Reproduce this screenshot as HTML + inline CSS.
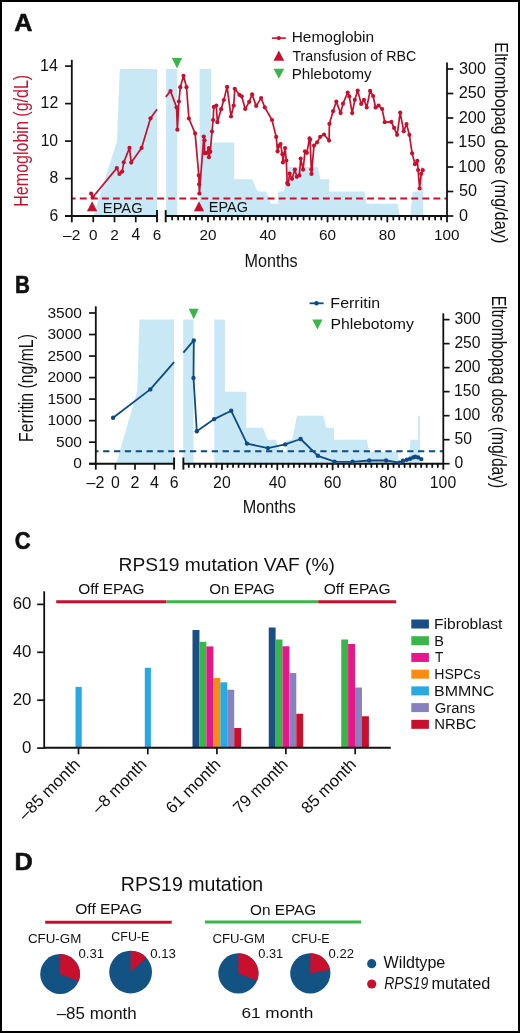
<!DOCTYPE html>
<html><head><meta charset="utf-8"><style>
html,body{margin:0;padding:0;background:#fff;}
svg{display:block;will-change:transform;}
text{font-family:"Liberation Sans",sans-serif;}
</style></head><body>
<svg width="520" height="1033" viewBox="0 0 520 1033">
<rect x="0" y="0" width="520" height="1033" fill="#fff"/>
<polygon points="93.2,216 116.9,141.8 119.8,69 157,69 157,216" fill="#c9e8f6"/>
<polygon points="166.13,216 166.13,69 177.19,69 177.19,216" fill="#c9e8f6"/>
<polygon points="199.61,216 199.61,69 211.12,69 211.12,142.5 234.28,142.5 234.28,179.25 252.22,179.25 257.45,191.5 265.97,191.5 271.05,203.75 277.77,203.75 277.77,191.5 283.75,191.5 288.98,167 317.68,167 320.55,179.25 329.03,179.25 329.03,191.5 364.6,191.5 366.7,203.75 397.63,203.75 399.72,216" fill="#c9e8f6"/>
<polygon points="410.34,216 412.58,191.5 420.95,191.5 420.95,167 423.04,167 423.04,216" fill="#c9e8f6"/>
<line x1="71.8" y1="198.5" x2="447" y2="198.5" stroke="#c8102e" stroke-width="2" stroke-dasharray="6.9 4.15" stroke-dashoffset="3.05"/>
<line x1="71.8" y1="59.8" x2="71.8" y2="222.3" stroke="#111" stroke-width="1.8"/>
<line x1="447" y1="62.5" x2="447" y2="222.3" stroke="#111" stroke-width="1.8"/>
<line x1="65" y1="216" x2="157" y2="216" stroke="#111" stroke-width="2"/>
<line x1="165.7" y1="216" x2="447" y2="216" stroke="#111" stroke-width="2"/>
<line x1="65" y1="216.1" x2="71.8" y2="216.1" stroke="#111" stroke-width="1.7"/>
<line x1="65" y1="178.6" x2="71.8" y2="178.6" stroke="#111" stroke-width="1.7"/>
<line x1="65" y1="141.1" x2="71.8" y2="141.1" stroke="#111" stroke-width="1.7"/>
<line x1="65" y1="103.6" x2="71.8" y2="103.6" stroke="#111" stroke-width="1.7"/>
<line x1="65" y1="66.1" x2="71.8" y2="66.1" stroke="#111" stroke-width="1.7"/>
<line x1="447" y1="216" x2="453.3" y2="216" stroke="#111" stroke-width="1.7"/>
<line x1="447" y1="191.5" x2="453.3" y2="191.5" stroke="#111" stroke-width="1.7"/>
<line x1="447" y1="167" x2="453.3" y2="167" stroke="#111" stroke-width="1.7"/>
<line x1="447" y1="142.5" x2="453.3" y2="142.5" stroke="#111" stroke-width="1.7"/>
<line x1="447" y1="118" x2="453.3" y2="118" stroke="#111" stroke-width="1.7"/>
<line x1="447" y1="93.5" x2="453.3" y2="93.5" stroke="#111" stroke-width="1.7"/>
<line x1="447" y1="69" x2="453.3" y2="69" stroke="#111" stroke-width="1.7"/>
<line x1="93.25" y1="216" x2="93.25" y2="222.3" stroke="#111" stroke-width="1.7"/>
<line x1="114.5" y1="216" x2="114.5" y2="222.3" stroke="#111" stroke-width="1.7"/>
<line x1="135.75" y1="216" x2="135.75" y2="222.3" stroke="#111" stroke-width="1.7"/>
<line x1="157" y1="210.1" x2="157" y2="222.35" stroke="#111" stroke-width="1.9"/>
<line x1="165.7" y1="210.1" x2="165.7" y2="222.35" stroke="#111" stroke-width="1.9"/>
<line x1="172.11" y1="216" x2="172.11" y2="219.5" stroke="#111" stroke-width="1.8" stroke-linecap="round"/>
<line x1="178.09" y1="216" x2="178.09" y2="219.5" stroke="#111" stroke-width="1.8" stroke-linecap="round"/>
<line x1="184.07" y1="216" x2="184.07" y2="219.5" stroke="#111" stroke-width="1.8" stroke-linecap="round"/>
<line x1="190.05" y1="216" x2="190.05" y2="219.5" stroke="#111" stroke-width="1.8" stroke-linecap="round"/>
<line x1="196.02" y1="216" x2="196.02" y2="219.5" stroke="#111" stroke-width="1.8" stroke-linecap="round"/>
<line x1="202" y1="216" x2="202" y2="219.5" stroke="#111" stroke-width="1.8" stroke-linecap="round"/>
<line x1="207.98" y1="216" x2="207.98" y2="221.5" stroke="#111" stroke-width="1.8" stroke-linecap="round"/>
<line x1="213.96" y1="216" x2="213.96" y2="219.5" stroke="#111" stroke-width="1.8" stroke-linecap="round"/>
<line x1="219.94" y1="216" x2="219.94" y2="219.5" stroke="#111" stroke-width="1.8" stroke-linecap="round"/>
<line x1="225.91" y1="216" x2="225.91" y2="219.5" stroke="#111" stroke-width="1.8" stroke-linecap="round"/>
<line x1="231.89" y1="216" x2="231.89" y2="219.5" stroke="#111" stroke-width="1.8" stroke-linecap="round"/>
<line x1="237.87" y1="216" x2="237.87" y2="219.5" stroke="#111" stroke-width="1.8" stroke-linecap="round"/>
<line x1="243.85" y1="216" x2="243.85" y2="219.5" stroke="#111" stroke-width="1.8" stroke-linecap="round"/>
<line x1="249.83" y1="216" x2="249.83" y2="219.5" stroke="#111" stroke-width="1.8" stroke-linecap="round"/>
<line x1="255.8" y1="216" x2="255.8" y2="219.5" stroke="#111" stroke-width="1.8" stroke-linecap="round"/>
<line x1="261.78" y1="216" x2="261.78" y2="219.5" stroke="#111" stroke-width="1.8" stroke-linecap="round"/>
<line x1="267.76" y1="216" x2="267.76" y2="221.5" stroke="#111" stroke-width="1.8" stroke-linecap="round"/>
<line x1="273.74" y1="216" x2="273.74" y2="219.5" stroke="#111" stroke-width="1.8" stroke-linecap="round"/>
<line x1="279.72" y1="216" x2="279.72" y2="219.5" stroke="#111" stroke-width="1.8" stroke-linecap="round"/>
<line x1="285.69" y1="216" x2="285.69" y2="219.5" stroke="#111" stroke-width="1.8" stroke-linecap="round"/>
<line x1="291.67" y1="216" x2="291.67" y2="219.5" stroke="#111" stroke-width="1.8" stroke-linecap="round"/>
<line x1="297.65" y1="216" x2="297.65" y2="219.5" stroke="#111" stroke-width="1.8" stroke-linecap="round"/>
<line x1="303.63" y1="216" x2="303.63" y2="219.5" stroke="#111" stroke-width="1.8" stroke-linecap="round"/>
<line x1="309.61" y1="216" x2="309.61" y2="219.5" stroke="#111" stroke-width="1.8" stroke-linecap="round"/>
<line x1="315.58" y1="216" x2="315.58" y2="219.5" stroke="#111" stroke-width="1.8" stroke-linecap="round"/>
<line x1="321.56" y1="216" x2="321.56" y2="219.5" stroke="#111" stroke-width="1.8" stroke-linecap="round"/>
<line x1="327.54" y1="216" x2="327.54" y2="221.5" stroke="#111" stroke-width="1.8" stroke-linecap="round"/>
<line x1="333.52" y1="216" x2="333.52" y2="219.5" stroke="#111" stroke-width="1.8" stroke-linecap="round"/>
<line x1="339.5" y1="216" x2="339.5" y2="219.5" stroke="#111" stroke-width="1.8" stroke-linecap="round"/>
<line x1="345.47" y1="216" x2="345.47" y2="219.5" stroke="#111" stroke-width="1.8" stroke-linecap="round"/>
<line x1="351.45" y1="216" x2="351.45" y2="219.5" stroke="#111" stroke-width="1.8" stroke-linecap="round"/>
<line x1="357.43" y1="216" x2="357.43" y2="219.5" stroke="#111" stroke-width="1.8" stroke-linecap="round"/>
<line x1="363.41" y1="216" x2="363.41" y2="219.5" stroke="#111" stroke-width="1.8" stroke-linecap="round"/>
<line x1="369.39" y1="216" x2="369.39" y2="219.5" stroke="#111" stroke-width="1.8" stroke-linecap="round"/>
<line x1="375.36" y1="216" x2="375.36" y2="219.5" stroke="#111" stroke-width="1.8" stroke-linecap="round"/>
<line x1="381.34" y1="216" x2="381.34" y2="219.5" stroke="#111" stroke-width="1.8" stroke-linecap="round"/>
<line x1="387.32" y1="216" x2="387.32" y2="221.5" stroke="#111" stroke-width="1.8" stroke-linecap="round"/>
<line x1="393.3" y1="216" x2="393.3" y2="219.5" stroke="#111" stroke-width="1.8" stroke-linecap="round"/>
<line x1="399.28" y1="216" x2="399.28" y2="219.5" stroke="#111" stroke-width="1.8" stroke-linecap="round"/>
<line x1="405.25" y1="216" x2="405.25" y2="219.5" stroke="#111" stroke-width="1.8" stroke-linecap="round"/>
<line x1="411.23" y1="216" x2="411.23" y2="219.5" stroke="#111" stroke-width="1.8" stroke-linecap="round"/>
<line x1="417.21" y1="216" x2="417.21" y2="219.5" stroke="#111" stroke-width="1.8" stroke-linecap="round"/>
<line x1="423.19" y1="216" x2="423.19" y2="219.5" stroke="#111" stroke-width="1.8" stroke-linecap="round"/>
<line x1="429.17" y1="216" x2="429.17" y2="219.5" stroke="#111" stroke-width="1.8" stroke-linecap="round"/>
<line x1="435.14" y1="216" x2="435.14" y2="219.5" stroke="#111" stroke-width="1.8" stroke-linecap="round"/>
<line x1="441.12" y1="216" x2="441.12" y2="219.5" stroke="#111" stroke-width="1.8" stroke-linecap="round"/>
<polyline points="92.75,197.2 116.8,168.1 119.4,174 122.2,171.6 123.8,162.3 129.5,147.9 131.2,162.6 141.6,147.9 150.5,118.3 157,109.3" fill="none" stroke="#c8102e" stroke-width="1.7" stroke-linejoin="round"/>
<polyline points="91.1,193.6 92.75,197.2" fill="none" stroke="#c8102e" stroke-width="1.7" stroke-linejoin="round"/>
<polyline points="165.8,96.9 170.5,91.1 176.6,107.4 177.4,129.7 178.9,101.5 180.3,87.2 183.5,75.8 186.5,87.2 188.9,118.5 195.1,133.4 198.8,175.4 199.1,184.3 199.4,193.5 203.8,136.5 204.5,140.3 204.6,153.1 206.5,153 208.9,148 208.9,157.2 210.3,151.7 212,131.5 213.1,120 213.8,106.9 216.3,105.5 217.4,122.2 221.1,109.2 223.8,100 227.1,86.9 231,116.5 233.7,105.6 234.8,88.8 239.4,94.8 241.7,96.3 245.2,109 249.2,101.8 252.1,94.4 256.2,105.9 261.1,98.1 264.8,107.3 272,120 276.2,136.9 277.6,151.3 278.6,146 280.5,144.1 282.4,154.2 282.9,162.4 285.1,148 286.3,160.5 287.2,183.1 288.2,184.5 289.6,173.5 292,178.8 294.9,169.6 296.8,176.8 299.3,175.4 300.7,158.6 303.1,169.6 305,151.3 306.9,152.8 309.5,138.4 310.1,139.8 311.3,169.6 311.5,173.9 314,145.6 317.1,142.3 320.2,136.8 324,134.5 329.1,140.6 329.4,123.8 333.1,111.2 336.3,101.6 340.6,113.1 343,103.7 347.7,92.5 349.3,96.4 352.2,113.1 354.8,99.8 357.7,90.6 361.2,103.9 364,99.8 366.7,107.5 370.1,90.9 373.1,96 375.6,107.5 378.6,105.5 382.1,109 384.8,122.2 391.3,121.9 394.1,127.9 397.1,134.8 400.2,112.7 403.7,131.2 406.5,124 409.4,134.8 412.1,153.3 415,164.2 417.3,160.8 418.1,170 419.6,188.5 421.2,173.8 422.7,170.2" fill="none" stroke="#c8102e" stroke-width="1.7" stroke-linejoin="round"/>
<circle cx="91.1" cy="193.6" r="2.1" fill="#c8102e"/><circle cx="92.75" cy="197.2" r="2.1" fill="#c8102e"/><circle cx="116.8" cy="168.1" r="2.1" fill="#c8102e"/><circle cx="119.4" cy="174" r="2.1" fill="#c8102e"/><circle cx="122.2" cy="171.6" r="2.1" fill="#c8102e"/><circle cx="123.8" cy="162.3" r="2.1" fill="#c8102e"/><circle cx="129.5" cy="147.9" r="2.1" fill="#c8102e"/><circle cx="131.2" cy="162.6" r="2.1" fill="#c8102e"/><circle cx="141.6" cy="147.9" r="2.1" fill="#c8102e"/><circle cx="150.5" cy="118.3" r="2.1" fill="#c8102e"/><circle cx="170.5" cy="91.1" r="2.1" fill="#c8102e"/><circle cx="176.6" cy="107.4" r="2.1" fill="#c8102e"/><circle cx="177.4" cy="129.7" r="2.1" fill="#c8102e"/><circle cx="178.9" cy="101.5" r="2.1" fill="#c8102e"/><circle cx="180.3" cy="87.2" r="2.1" fill="#c8102e"/><circle cx="183.5" cy="75.8" r="2.1" fill="#c8102e"/><circle cx="186.5" cy="87.2" r="2.1" fill="#c8102e"/><circle cx="188.9" cy="118.5" r="2.1" fill="#c8102e"/><circle cx="195.1" cy="133.4" r="2.1" fill="#c8102e"/><circle cx="198.8" cy="175.4" r="2.1" fill="#c8102e"/><circle cx="199.1" cy="184.3" r="2.1" fill="#c8102e"/><circle cx="199.4" cy="193.5" r="2.1" fill="#c8102e"/><circle cx="203.8" cy="136.5" r="2.1" fill="#c8102e"/><circle cx="204.5" cy="140.3" r="2.1" fill="#c8102e"/><circle cx="204.6" cy="153.1" r="2.1" fill="#c8102e"/><circle cx="206.5" cy="153" r="2.1" fill="#c8102e"/><circle cx="208.9" cy="148" r="2.1" fill="#c8102e"/><circle cx="208.9" cy="157.2" r="2.1" fill="#c8102e"/><circle cx="210.3" cy="151.7" r="2.1" fill="#c8102e"/><circle cx="212" cy="131.5" r="2.1" fill="#c8102e"/><circle cx="213.1" cy="120" r="2.1" fill="#c8102e"/><circle cx="213.8" cy="106.9" r="2.1" fill="#c8102e"/><circle cx="216.3" cy="105.5" r="2.1" fill="#c8102e"/><circle cx="217.4" cy="122.2" r="2.1" fill="#c8102e"/><circle cx="221.1" cy="109.2" r="2.1" fill="#c8102e"/><circle cx="223.8" cy="100" r="2.1" fill="#c8102e"/><circle cx="227.1" cy="86.9" r="2.1" fill="#c8102e"/><circle cx="231" cy="116.5" r="2.1" fill="#c8102e"/><circle cx="233.7" cy="105.6" r="2.1" fill="#c8102e"/><circle cx="234.8" cy="88.8" r="2.1" fill="#c8102e"/><circle cx="239.4" cy="94.8" r="2.1" fill="#c8102e"/><circle cx="241.7" cy="96.3" r="2.1" fill="#c8102e"/><circle cx="245.2" cy="109" r="2.1" fill="#c8102e"/><circle cx="249.2" cy="101.8" r="2.1" fill="#c8102e"/><circle cx="252.1" cy="94.4" r="2.1" fill="#c8102e"/><circle cx="256.2" cy="105.9" r="2.1" fill="#c8102e"/><circle cx="261.1" cy="98.1" r="2.1" fill="#c8102e"/><circle cx="264.8" cy="107.3" r="2.1" fill="#c8102e"/><circle cx="272" cy="120" r="2.1" fill="#c8102e"/><circle cx="276.2" cy="136.9" r="2.1" fill="#c8102e"/><circle cx="277.6" cy="151.3" r="2.1" fill="#c8102e"/><circle cx="278.6" cy="146" r="2.1" fill="#c8102e"/><circle cx="280.5" cy="144.1" r="2.1" fill="#c8102e"/><circle cx="282.4" cy="154.2" r="2.1" fill="#c8102e"/><circle cx="282.9" cy="162.4" r="2.1" fill="#c8102e"/><circle cx="285.1" cy="148" r="2.1" fill="#c8102e"/><circle cx="286.3" cy="160.5" r="2.1" fill="#c8102e"/><circle cx="287.2" cy="183.1" r="2.1" fill="#c8102e"/><circle cx="288.2" cy="184.5" r="2.1" fill="#c8102e"/><circle cx="289.6" cy="173.5" r="2.1" fill="#c8102e"/><circle cx="292" cy="178.8" r="2.1" fill="#c8102e"/><circle cx="294.9" cy="169.6" r="2.1" fill="#c8102e"/><circle cx="296.8" cy="176.8" r="2.1" fill="#c8102e"/><circle cx="299.3" cy="175.4" r="2.1" fill="#c8102e"/><circle cx="300.7" cy="158.6" r="2.1" fill="#c8102e"/><circle cx="303.1" cy="169.6" r="2.1" fill="#c8102e"/><circle cx="305" cy="151.3" r="2.1" fill="#c8102e"/><circle cx="306.9" cy="152.8" r="2.1" fill="#c8102e"/><circle cx="309.5" cy="138.4" r="2.1" fill="#c8102e"/><circle cx="310.1" cy="139.8" r="2.1" fill="#c8102e"/><circle cx="311.3" cy="169.6" r="2.1" fill="#c8102e"/><circle cx="311.5" cy="173.9" r="2.1" fill="#c8102e"/><circle cx="314" cy="145.6" r="2.1" fill="#c8102e"/><circle cx="317.1" cy="142.3" r="2.1" fill="#c8102e"/><circle cx="320.2" cy="136.8" r="2.1" fill="#c8102e"/><circle cx="324" cy="134.5" r="2.1" fill="#c8102e"/><circle cx="329.1" cy="140.6" r="2.1" fill="#c8102e"/><circle cx="329.4" cy="123.8" r="2.1" fill="#c8102e"/><circle cx="333.1" cy="111.2" r="2.1" fill="#c8102e"/><circle cx="336.3" cy="101.6" r="2.1" fill="#c8102e"/><circle cx="340.6" cy="113.1" r="2.1" fill="#c8102e"/><circle cx="343" cy="103.7" r="2.1" fill="#c8102e"/><circle cx="347.7" cy="92.5" r="2.1" fill="#c8102e"/><circle cx="349.3" cy="96.4" r="2.1" fill="#c8102e"/><circle cx="352.2" cy="113.1" r="2.1" fill="#c8102e"/><circle cx="354.8" cy="99.8" r="2.1" fill="#c8102e"/><circle cx="357.7" cy="90.6" r="2.1" fill="#c8102e"/><circle cx="361.2" cy="103.9" r="2.1" fill="#c8102e"/><circle cx="364" cy="99.8" r="2.1" fill="#c8102e"/><circle cx="366.7" cy="107.5" r="2.1" fill="#c8102e"/><circle cx="370.1" cy="90.9" r="2.1" fill="#c8102e"/><circle cx="373.1" cy="96" r="2.1" fill="#c8102e"/><circle cx="375.6" cy="107.5" r="2.1" fill="#c8102e"/><circle cx="378.6" cy="105.5" r="2.1" fill="#c8102e"/><circle cx="382.1" cy="109" r="2.1" fill="#c8102e"/><circle cx="384.8" cy="122.2" r="2.1" fill="#c8102e"/><circle cx="391.3" cy="121.9" r="2.1" fill="#c8102e"/><circle cx="394.1" cy="127.9" r="2.1" fill="#c8102e"/><circle cx="397.1" cy="134.8" r="2.1" fill="#c8102e"/><circle cx="400.2" cy="112.7" r="2.1" fill="#c8102e"/><circle cx="403.7" cy="131.2" r="2.1" fill="#c8102e"/><circle cx="406.5" cy="124" r="2.1" fill="#c8102e"/><circle cx="409.4" cy="134.8" r="2.1" fill="#c8102e"/><circle cx="412.1" cy="153.3" r="2.1" fill="#c8102e"/><circle cx="415" cy="164.2" r="2.1" fill="#c8102e"/><circle cx="417.3" cy="160.8" r="2.1" fill="#c8102e"/><circle cx="418.1" cy="170" r="2.1" fill="#c8102e"/><circle cx="419.6" cy="188.5" r="2.1" fill="#c8102e"/><circle cx="421.2" cy="173.8" r="2.1" fill="#c8102e"/><circle cx="422.7" cy="170.2" r="2.1" fill="#c8102e"/>
<polygon points="92.1,201.2 86.95,211.2 97.25,211.2" fill="#c8102e"/>
<polygon points="199,201.25 193.9,211.25 204.1,211.25" fill="#c8102e"/>
<polygon points="171.9,57.9 182.1,57.9 177,68.6" fill="#39b54a"/>
<line x1="271.9" y1="38.1" x2="285.8" y2="38.1" stroke="#c8102e" stroke-width="1.6"/>
<circle cx="278.8" cy="38.1" r="2.1" fill="#c8102e"/>
<polygon points="278.85,50.4 273.5,60.7 284.2,60.7" fill="#c8102e"/>
<polygon points="273.5,68.8 284.2,68.8 278.85,78.8" fill="#39b54a"/>
<text x="291.73" y="42.2" font-size="14.21" fill="#111" textLength="82.37" lengthAdjust="spacingAndGlyphs">Hemoglobin</text>
<text x="292.38" y="60.7" font-size="14.63" fill="#111" textLength="123.86" lengthAdjust="spacingAndGlyphs">Transfusion of RBC</text>
<text x="291.76" y="79.2" font-size="14.35" fill="#111" textLength="79.77" lengthAdjust="spacingAndGlyphs">Phlebotomy</text>
<text x="14.17" y="30.6" font-size="23.69" font-weight="bold" fill="#111" textLength="18.19" lengthAdjust="spacingAndGlyphs" stroke="#111" stroke-width="0.6" stroke-linejoin="round">A</text>
<text x="49.47" y="220.55" font-size="15.68" fill="#111" textLength="8.72" lengthAdjust="spacingAndGlyphs">6</text>
<text x="49.46" y="183.05" font-size="15.68" fill="#111" textLength="8.72" lengthAdjust="spacingAndGlyphs">8</text>
<text x="40.67" y="145.55" font-size="15.68" fill="#111" textLength="17.44" lengthAdjust="spacingAndGlyphs">10</text>
<text x="40.62" y="108.2" font-size="15.9" fill="#111" textLength="17.68" lengthAdjust="spacingAndGlyphs">12</text>
<text x="40.03" y="70.7" font-size="16.13" fill="#111" textLength="17.95" lengthAdjust="spacingAndGlyphs">14</text>
<text x="458.97" y="220.74" font-size="16.24" fill="#111" textLength="9.03" lengthAdjust="spacingAndGlyphs">0</text>
<text x="458.95" y="196.24" font-size="16.24" fill="#111" textLength="18.07" lengthAdjust="spacingAndGlyphs">50</text>
<text x="458.36" y="171.74" font-size="16.24" fill="#111" textLength="27.1" lengthAdjust="spacingAndGlyphs">100</text>
<text x="458.36" y="147.24" font-size="16.24" fill="#111" textLength="27.1" lengthAdjust="spacingAndGlyphs">150</text>
<text x="458.78" y="122.74" font-size="16.24" fill="#111" textLength="27.1" lengthAdjust="spacingAndGlyphs">200</text>
<text x="458.78" y="98.24" font-size="16.24" fill="#111" textLength="27.1" lengthAdjust="spacingAndGlyphs">250</text>
<text x="458.98" y="73.74" font-size="16.24" fill="#111" textLength="27.1" lengthAdjust="spacingAndGlyphs">300</text>
<text x="63.09" y="240.1" font-size="15.47" fill="#111" textLength="17.2" lengthAdjust="spacingAndGlyphs">–2</text>
<text x="89.01" y="239.95" font-size="15.25" fill="#111" textLength="8.48" lengthAdjust="spacingAndGlyphs">0</text>
<text x="110.2" y="240.1" font-size="15.47" fill="#111" textLength="8.6" lengthAdjust="spacingAndGlyphs">2</text>
<text x="131.43" y="240.1" font-size="15.7" fill="#111" textLength="8.73" lengthAdjust="spacingAndGlyphs">4</text>
<text x="152.71" y="239.95" font-size="15.25" fill="#111" textLength="8.48" lengthAdjust="spacingAndGlyphs">6</text>
<text x="199.41" y="239.95" font-size="15.25" fill="#111" textLength="16.97" lengthAdjust="spacingAndGlyphs">20</text>
<text x="259.4" y="239.95" font-size="15.25" fill="#111" textLength="16.97" lengthAdjust="spacingAndGlyphs">40</text>
<text x="318.97" y="239.95" font-size="15.25" fill="#111" textLength="16.97" lengthAdjust="spacingAndGlyphs">60</text>
<text x="378.8" y="239.95" font-size="15.25" fill="#111" textLength="16.97" lengthAdjust="spacingAndGlyphs">80</text>
<text x="434.09" y="239.95" font-size="15.25" fill="#111" textLength="25.45" lengthAdjust="spacingAndGlyphs">100</text>
<text x="244.47" y="266.75" font-size="18.7" fill="#111" textLength="53.01" lengthAdjust="spacingAndGlyphs">Months</text>
<text x="102.82" y="212.5" font-size="14.46" fill="#111" textLength="39.85" lengthAdjust="spacingAndGlyphs">EPAG</text>
<text x="208.85" y="212.3" font-size="14.04" fill="#111" textLength="39.11" lengthAdjust="spacingAndGlyphs">EPAG</text>
<g transform="translate(28.1,205.4) rotate(-90)"><text x="-1.32" y="0" font-size="19.73" fill="#c8102e" textLength="131.91" lengthAdjust="spacingAndGlyphs">Hemoglobin (g/dL)</text></g>
<g transform="translate(494.5,43.6) rotate(90)"><text x="-1.34" y="0" font-size="19.18" fill="#111" textLength="201.05" lengthAdjust="spacingAndGlyphs">Eltrombopag dose (mg/day)</text></g>
<polygon points="116.1,463.7 137.3,390.8 139.4,319.61 174.1,319.61 174.1,463.7" fill="#c9e8f6"/>
<polygon points="183.25,463.7 183.25,319.61 193.49,319.61 193.49,463.7" fill="#c9e8f6"/>
<polygon points="214.23,463.7 214.23,319.61 224.88,319.61 224.88,391.65 246.33,391.65 246.33,427.68 262.92,427.68 267.77,439.69 275.65,439.69 280.35,451.69 286.58,451.69 286.58,439.69 292.11,439.69 296.95,415.67 323.51,415.67 326.17,427.68 334.02,427.68 334.02,439.69 366.94,439.69 368.88,451.69 397.51,451.69 399.45,463.7" fill="#c9e8f6"/>
<polygon points="409.13,463.7 410.38,439.69 418.12,439.69 418.12,415.67 420.06,415.67 420.06,463.7" fill="#c9e8f6"/>
<line x1="95.8" y1="451.25" x2="443.3" y2="451.25" stroke="#0e4b85" stroke-width="1.9" stroke-dasharray="6.3 4.56" stroke-dashoffset="3.56"/>
<line x1="95.8" y1="306.3" x2="95.8" y2="469.7" stroke="#111" stroke-width="1.8"/>
<line x1="443.3" y1="313.3" x2="443.3" y2="469.7" stroke="#111" stroke-width="1.8"/>
<line x1="89" y1="463.7" x2="174.1" y2="463.7" stroke="#111" stroke-width="2"/>
<line x1="183.35" y1="463.7" x2="443.3" y2="463.7" stroke="#111" stroke-width="2"/>
<line x1="89" y1="463.7" x2="95.8" y2="463.7" stroke="#111" stroke-width="1.7"/>
<line x1="89" y1="442.17" x2="95.8" y2="442.17" stroke="#111" stroke-width="1.7"/>
<line x1="89" y1="420.64" x2="95.8" y2="420.64" stroke="#111" stroke-width="1.7"/>
<line x1="89" y1="399.11" x2="95.8" y2="399.11" stroke="#111" stroke-width="1.7"/>
<line x1="89" y1="377.58" x2="95.8" y2="377.58" stroke="#111" stroke-width="1.7"/>
<line x1="89" y1="356.05" x2="95.8" y2="356.05" stroke="#111" stroke-width="1.7"/>
<line x1="89" y1="334.52" x2="95.8" y2="334.52" stroke="#111" stroke-width="1.7"/>
<line x1="89" y1="312.99" x2="95.8" y2="312.99" stroke="#111" stroke-width="1.7"/>
<line x1="443.3" y1="463.7" x2="449.6" y2="463.7" stroke="#111" stroke-width="1.7"/>
<line x1="443.3" y1="439.69" x2="449.6" y2="439.69" stroke="#111" stroke-width="1.7"/>
<line x1="443.3" y1="415.67" x2="449.6" y2="415.67" stroke="#111" stroke-width="1.7"/>
<line x1="443.3" y1="391.65" x2="449.6" y2="391.65" stroke="#111" stroke-width="1.7"/>
<line x1="443.3" y1="367.64" x2="449.6" y2="367.64" stroke="#111" stroke-width="1.7"/>
<line x1="443.3" y1="343.62" x2="449.6" y2="343.62" stroke="#111" stroke-width="1.7"/>
<line x1="443.3" y1="319.61" x2="449.6" y2="319.61" stroke="#111" stroke-width="1.7"/>
<line x1="115.4" y1="463.7" x2="115.4" y2="469.7" stroke="#111" stroke-width="1.7"/>
<line x1="135" y1="463.7" x2="135" y2="469.7" stroke="#111" stroke-width="1.7"/>
<line x1="154.6" y1="463.7" x2="154.6" y2="469.7" stroke="#111" stroke-width="1.7"/>
<line x1="174.1" y1="457.5" x2="174.1" y2="469.6" stroke="#111" stroke-width="1.9"/>
<line x1="183.35" y1="457.5" x2="183.35" y2="469.6" stroke="#111" stroke-width="1.9"/>
<line x1="188.78" y1="463.7" x2="188.78" y2="467.1" stroke="#111" stroke-width="1.8" stroke-linecap="round"/>
<line x1="194.31" y1="463.7" x2="194.31" y2="467.1" stroke="#111" stroke-width="1.8" stroke-linecap="round"/>
<line x1="199.85" y1="463.7" x2="199.85" y2="467.1" stroke="#111" stroke-width="1.8" stroke-linecap="round"/>
<line x1="205.38" y1="463.7" x2="205.38" y2="467.1" stroke="#111" stroke-width="1.8" stroke-linecap="round"/>
<line x1="210.91" y1="463.7" x2="210.91" y2="467.1" stroke="#111" stroke-width="1.8" stroke-linecap="round"/>
<line x1="216.45" y1="463.7" x2="216.45" y2="467.1" stroke="#111" stroke-width="1.8" stroke-linecap="round"/>
<line x1="221.98" y1="463.7" x2="221.98" y2="469.3" stroke="#111" stroke-width="1.8" stroke-linecap="round"/>
<line x1="227.51" y1="463.7" x2="227.51" y2="467.1" stroke="#111" stroke-width="1.8" stroke-linecap="round"/>
<line x1="233.05" y1="463.7" x2="233.05" y2="467.1" stroke="#111" stroke-width="1.8" stroke-linecap="round"/>
<line x1="238.58" y1="463.7" x2="238.58" y2="467.1" stroke="#111" stroke-width="1.8" stroke-linecap="round"/>
<line x1="244.11" y1="463.7" x2="244.11" y2="467.1" stroke="#111" stroke-width="1.8" stroke-linecap="round"/>
<line x1="249.65" y1="463.7" x2="249.65" y2="467.1" stroke="#111" stroke-width="1.8" stroke-linecap="round"/>
<line x1="255.18" y1="463.7" x2="255.18" y2="467.1" stroke="#111" stroke-width="1.8" stroke-linecap="round"/>
<line x1="260.71" y1="463.7" x2="260.71" y2="467.1" stroke="#111" stroke-width="1.8" stroke-linecap="round"/>
<line x1="266.24" y1="463.7" x2="266.24" y2="467.1" stroke="#111" stroke-width="1.8" stroke-linecap="round"/>
<line x1="271.78" y1="463.7" x2="271.78" y2="467.1" stroke="#111" stroke-width="1.8" stroke-linecap="round"/>
<line x1="277.31" y1="463.7" x2="277.31" y2="469.3" stroke="#111" stroke-width="1.8" stroke-linecap="round"/>
<line x1="282.84" y1="463.7" x2="282.84" y2="467.1" stroke="#111" stroke-width="1.8" stroke-linecap="round"/>
<line x1="288.38" y1="463.7" x2="288.38" y2="467.1" stroke="#111" stroke-width="1.8" stroke-linecap="round"/>
<line x1="293.91" y1="463.7" x2="293.91" y2="467.1" stroke="#111" stroke-width="1.8" stroke-linecap="round"/>
<line x1="299.44" y1="463.7" x2="299.44" y2="467.1" stroke="#111" stroke-width="1.8" stroke-linecap="round"/>
<line x1="304.98" y1="463.7" x2="304.98" y2="467.1" stroke="#111" stroke-width="1.8" stroke-linecap="round"/>
<line x1="310.51" y1="463.7" x2="310.51" y2="467.1" stroke="#111" stroke-width="1.8" stroke-linecap="round"/>
<line x1="316.04" y1="463.7" x2="316.04" y2="467.1" stroke="#111" stroke-width="1.8" stroke-linecap="round"/>
<line x1="321.57" y1="463.7" x2="321.57" y2="467.1" stroke="#111" stroke-width="1.8" stroke-linecap="round"/>
<line x1="327.11" y1="463.7" x2="327.11" y2="467.1" stroke="#111" stroke-width="1.8" stroke-linecap="round"/>
<line x1="332.64" y1="463.7" x2="332.64" y2="469.3" stroke="#111" stroke-width="1.8" stroke-linecap="round"/>
<line x1="338.17" y1="463.7" x2="338.17" y2="467.1" stroke="#111" stroke-width="1.8" stroke-linecap="round"/>
<line x1="343.71" y1="463.7" x2="343.71" y2="467.1" stroke="#111" stroke-width="1.8" stroke-linecap="round"/>
<line x1="349.24" y1="463.7" x2="349.24" y2="467.1" stroke="#111" stroke-width="1.8" stroke-linecap="round"/>
<line x1="354.77" y1="463.7" x2="354.77" y2="467.1" stroke="#111" stroke-width="1.8" stroke-linecap="round"/>
<line x1="360.31" y1="463.7" x2="360.31" y2="467.1" stroke="#111" stroke-width="1.8" stroke-linecap="round"/>
<line x1="365.84" y1="463.7" x2="365.84" y2="467.1" stroke="#111" stroke-width="1.8" stroke-linecap="round"/>
<line x1="371.37" y1="463.7" x2="371.37" y2="467.1" stroke="#111" stroke-width="1.8" stroke-linecap="round"/>
<line x1="376.9" y1="463.7" x2="376.9" y2="467.1" stroke="#111" stroke-width="1.8" stroke-linecap="round"/>
<line x1="382.44" y1="463.7" x2="382.44" y2="467.1" stroke="#111" stroke-width="1.8" stroke-linecap="round"/>
<line x1="387.97" y1="463.7" x2="387.97" y2="469.3" stroke="#111" stroke-width="1.8" stroke-linecap="round"/>
<line x1="393.5" y1="463.7" x2="393.5" y2="467.1" stroke="#111" stroke-width="1.8" stroke-linecap="round"/>
<line x1="399.04" y1="463.7" x2="399.04" y2="467.1" stroke="#111" stroke-width="1.8" stroke-linecap="round"/>
<line x1="404.57" y1="463.7" x2="404.57" y2="467.1" stroke="#111" stroke-width="1.8" stroke-linecap="round"/>
<line x1="410.1" y1="463.7" x2="410.1" y2="467.1" stroke="#111" stroke-width="1.8" stroke-linecap="round"/>
<line x1="415.63" y1="463.7" x2="415.63" y2="467.1" stroke="#111" stroke-width="1.8" stroke-linecap="round"/>
<line x1="421.17" y1="463.7" x2="421.17" y2="467.1" stroke="#111" stroke-width="1.8" stroke-linecap="round"/>
<line x1="426.7" y1="463.7" x2="426.7" y2="467.1" stroke="#111" stroke-width="1.8" stroke-linecap="round"/>
<line x1="432.23" y1="463.7" x2="432.23" y2="467.1" stroke="#111" stroke-width="1.8" stroke-linecap="round"/>
<line x1="437.77" y1="463.7" x2="437.77" y2="467.1" stroke="#111" stroke-width="1.8" stroke-linecap="round"/>
<polyline points="113.1,417.7 150.3,389.4 174.1,362.1" fill="none" stroke="#0e4b85" stroke-width="1.8" stroke-linejoin="round"/>
<polyline points="183.4,352.6 193.8,340.4 193.5,377.9 196.8,431.3 214.2,419.1 231.2,410.8 247,443.6 267.9,448.1 285.2,444.4 300.6,439 317.9,455.8 334.6,461.7 352.6,461.8 369.2,460.5 386.1,460.5 399.7,462.6 403,460.8 406.8,459.8 410.1,458.8 413.2,457.4 415.2,456.7 418.2,457.4 421.3,459.1" fill="none" stroke="#0e4b85" stroke-width="1.8" stroke-linejoin="round"/>
<circle cx="113.1" cy="417.7" r="2.2" fill="#0e4b85"/><circle cx="150.3" cy="389.4" r="2.2" fill="#0e4b85"/><circle cx="193.8" cy="340.4" r="2.2" fill="#0e4b85"/><circle cx="193.5" cy="377.9" r="2.2" fill="#0e4b85"/><circle cx="196.8" cy="431.3" r="2.2" fill="#0e4b85"/><circle cx="214.2" cy="419.1" r="2.2" fill="#0e4b85"/><circle cx="231.2" cy="410.8" r="2.2" fill="#0e4b85"/><circle cx="247" cy="443.6" r="2.2" fill="#0e4b85"/><circle cx="267.9" cy="448.1" r="2.2" fill="#0e4b85"/><circle cx="285.2" cy="444.4" r="2.2" fill="#0e4b85"/><circle cx="300.6" cy="439" r="2.2" fill="#0e4b85"/><circle cx="317.9" cy="455.8" r="2.2" fill="#0e4b85"/><circle cx="334.6" cy="461.7" r="2.2" fill="#0e4b85"/><circle cx="352.6" cy="461.8" r="2.2" fill="#0e4b85"/><circle cx="369.2" cy="460.5" r="2.2" fill="#0e4b85"/><circle cx="386.1" cy="460.5" r="2.2" fill="#0e4b85"/><circle cx="399.7" cy="462.6" r="2.2" fill="#0e4b85"/><circle cx="403" cy="460.8" r="2.2" fill="#0e4b85"/><circle cx="406.8" cy="459.8" r="2.2" fill="#0e4b85"/><circle cx="410.1" cy="458.8" r="2.2" fill="#0e4b85"/><circle cx="413.2" cy="457.4" r="2.2" fill="#0e4b85"/><circle cx="415.2" cy="456.7" r="2.2" fill="#0e4b85"/><circle cx="418.2" cy="457.4" r="2.2" fill="#0e4b85"/><circle cx="421.3" cy="459.1" r="2.2" fill="#0e4b85"/>
<polygon points="188.7,308.7 198.7,308.7 193.7,319.3" fill="#39b54a"/>
<line x1="309.6" y1="303.3" x2="323.6" y2="303.3" stroke="#0e4b85" stroke-width="1.8"/>
<circle cx="316.5" cy="303.3" r="2.2" fill="#0e4b85"/>
<polygon points="312.3,319.5 322.5,319.5 317.4,329.4" fill="#39b54a"/>
<text x="330.39" y="307.9" font-size="14.9" fill="#111" textLength="49.75" lengthAdjust="spacingAndGlyphs">Ferritin</text>
<text x="330.4" y="329.4" font-size="14.77" fill="#111" textLength="83.43" lengthAdjust="spacingAndGlyphs">Phlebotomy</text>
<text x="14.92" y="292.6" font-size="23.55" font-weight="bold" fill="#111" textLength="14.92" lengthAdjust="spacingAndGlyphs" stroke="#111" stroke-width="0.6" stroke-linejoin="round">B</text>
<text x="73.37" y="468.35" font-size="15.54" fill="#111" textLength="8.64" lengthAdjust="spacingAndGlyphs">0</text>
<text x="56.08" y="446.82" font-size="15.54" fill="#111" textLength="25.92" lengthAdjust="spacingAndGlyphs">500</text>
<text x="47.44" y="425.29" font-size="15.54" fill="#111" textLength="34.56" lengthAdjust="spacingAndGlyphs">1000</text>
<text x="47.44" y="403.76" font-size="15.54" fill="#111" textLength="34.56" lengthAdjust="spacingAndGlyphs">1500</text>
<text x="47.44" y="382.23" font-size="15.54" fill="#111" textLength="34.56" lengthAdjust="spacingAndGlyphs">2000</text>
<text x="47.44" y="360.7" font-size="15.54" fill="#111" textLength="34.56" lengthAdjust="spacingAndGlyphs">2500</text>
<text x="47.44" y="339.17" font-size="15.54" fill="#111" textLength="34.56" lengthAdjust="spacingAndGlyphs">3000</text>
<text x="47.44" y="317.64" font-size="15.54" fill="#111" textLength="34.56" lengthAdjust="spacingAndGlyphs">3500</text>
<text x="454.59" y="468.15" font-size="15.68" fill="#111" textLength="8.72" lengthAdjust="spacingAndGlyphs">0</text>
<text x="454.57" y="444.13" font-size="15.68" fill="#111" textLength="17.44" lengthAdjust="spacingAndGlyphs">50</text>
<text x="454.01" y="420.12" font-size="15.68" fill="#111" textLength="26.16" lengthAdjust="spacingAndGlyphs">100</text>
<text x="454.01" y="396.1" font-size="15.68" fill="#111" textLength="26.16" lengthAdjust="spacingAndGlyphs">150</text>
<text x="454.41" y="372.09" font-size="15.68" fill="#111" textLength="26.16" lengthAdjust="spacingAndGlyphs">200</text>
<text x="454.41" y="348.07" font-size="15.68" fill="#111" textLength="26.16" lengthAdjust="spacingAndGlyphs">250</text>
<text x="454.6" y="324.06" font-size="15.68" fill="#111" textLength="26.16" lengthAdjust="spacingAndGlyphs">300</text>
<text x="86.58" y="487.8" font-size="16.04" fill="#111" textLength="17.84" lengthAdjust="spacingAndGlyphs">–2</text>
<text x="111" y="487.65" font-size="15.82" fill="#111" textLength="8.8" lengthAdjust="spacingAndGlyphs">0</text>
<text x="130.54" y="487.8" font-size="16.04" fill="#111" textLength="8.92" lengthAdjust="spacingAndGlyphs">2</text>
<text x="150.12" y="487.8" font-size="16.28" fill="#111" textLength="9.05" lengthAdjust="spacingAndGlyphs">4</text>
<text x="169.75" y="487.65" font-size="15.82" fill="#111" textLength="8.8" lengthAdjust="spacingAndGlyphs">6</text>
<text x="213.09" y="487.65" font-size="15.82" fill="#111" textLength="17.6" lengthAdjust="spacingAndGlyphs">20</text>
<text x="268.64" y="487.65" font-size="15.82" fill="#111" textLength="17.6" lengthAdjust="spacingAndGlyphs">40</text>
<text x="323.75" y="487.65" font-size="15.82" fill="#111" textLength="17.6" lengthAdjust="spacingAndGlyphs">60</text>
<text x="379.14" y="487.65" font-size="15.82" fill="#111" textLength="17.6" lengthAdjust="spacingAndGlyphs">80</text>
<text x="429.81" y="487.65" font-size="15.82" fill="#111" textLength="26.39" lengthAdjust="spacingAndGlyphs">100</text>
<text x="242.87" y="513.4" font-size="18.08" fill="#111" textLength="53.11" lengthAdjust="spacingAndGlyphs">Months</text>
<g transform="translate(32.5,440.7) rotate(-90)"><text x="-1.29" y="0" font-size="19.87" fill="#111" textLength="107.87" lengthAdjust="spacingAndGlyphs">Ferritin (ng/mL)</text></g>
<g transform="translate(491.7,296.9) rotate(90)"><text x="-1.28" y="0" font-size="19.46" fill="#111" textLength="192.65" lengthAdjust="spacingAndGlyphs">Eltrombopag dose (mg/day)</text></g>
<rect x="75.5" y="686.9" width="6.2" height="60.8" fill="#2aa8e0"/>
<rect x="144.8" y="667.8" width="6.1" height="79.9" fill="#2aa8e0"/>
<rect x="192.5" y="630" width="6.95" height="117.7" fill="#1a4f85"/>
<rect x="199.45" y="641.8" width="6.95" height="105.9" fill="#39b54a"/>
<rect x="206.4" y="646.4" width="6.95" height="101.3" fill="#e8168b"/>
<rect x="213.35" y="678" width="6.95" height="69.7" fill="#fa8c12"/>
<rect x="220.3" y="682.3" width="6.95" height="65.4" fill="#2aa8e0"/>
<rect x="227.25" y="689.7" width="6.95" height="58" fill="#8781bd"/>
<rect x="234.2" y="728" width="6.95" height="19.7" fill="#c8102e"/>
<rect x="268.75" y="627.5" width="6.85" height="120.2" fill="#1a4f85"/>
<rect x="275.6" y="639.5" width="6.9" height="108.2" fill="#39b54a"/>
<rect x="282.5" y="646.25" width="6.9" height="101.45" fill="#e8168b"/>
<rect x="289.4" y="673" width="6.9" height="74.7" fill="#8781bd"/>
<rect x="296.3" y="713.75" width="6.9" height="33.95" fill="#c8102e"/>
<rect x="341.25" y="639.5" width="6.85" height="108.2" fill="#39b54a"/>
<rect x="348.1" y="644" width="6.9" height="103.7" fill="#e8168b"/>
<rect x="355" y="687.5" width="6.95" height="60.2" fill="#8781bd"/>
<rect x="361.95" y="716.25" width="6.95" height="31.45" fill="#c8102e"/>
<line x1="44.2" y1="591.3" x2="44.2" y2="748.6" stroke="#111" stroke-width="1.8"/>
<line x1="44.2" y1="747.7" x2="390.8" y2="747.7" stroke="#111" stroke-width="2"/>
<line x1="37.2" y1="748.1" x2="44.2" y2="748.1" stroke="#111" stroke-width="1.7"/>
<text x="22.01" y="753.14" font-size="16.81" fill="#111" textLength="9.35" lengthAdjust="spacingAndGlyphs">0</text>
<line x1="37.2" y1="700.2" x2="44.2" y2="700.2" stroke="#111" stroke-width="1.7"/>
<text x="12.66" y="705.24" font-size="16.81" fill="#111" textLength="18.7" lengthAdjust="spacingAndGlyphs">20</text>
<line x1="37.2" y1="652.3" x2="44.2" y2="652.3" stroke="#111" stroke-width="1.7"/>
<text x="12.66" y="657.34" font-size="16.81" fill="#111" textLength="18.7" lengthAdjust="spacingAndGlyphs">40</text>
<line x1="37.2" y1="604.4" x2="44.2" y2="604.4" stroke="#111" stroke-width="1.7"/>
<text x="12.66" y="609.44" font-size="16.81" fill="#111" textLength="18.7" lengthAdjust="spacingAndGlyphs">60</text>
<line x1="78.5" y1="747.7" x2="78.5" y2="754.3" stroke="#111" stroke-width="1.7"/>
<line x1="147.8" y1="747.7" x2="147.8" y2="754.3" stroke="#111" stroke-width="1.7"/>
<line x1="216.9" y1="747.7" x2="216.9" y2="754.3" stroke="#111" stroke-width="1.7"/>
<line x1="285.9" y1="747.7" x2="285.9" y2="754.3" stroke="#111" stroke-width="1.7"/>
<line x1="355.2" y1="747.7" x2="355.2" y2="754.3" stroke="#111" stroke-width="1.7"/>
<text x="14.65" y="548.9" font-size="24.35" font-weight="bold" fill="#111" textLength="15.91" lengthAdjust="spacingAndGlyphs" stroke="#111" stroke-width="0.6" stroke-linejoin="round">C</text>
<text x="118.64" y="570.5" font-size="18.77" fill="#111" textLength="216.25" lengthAdjust="spacingAndGlyphs">RPS19 mutation VAF (%)</text>
<line x1="56.2" y1="601.85" x2="166.5" y2="601.85" stroke="#c8102e" stroke-width="3"/>
<line x1="166.5" y1="601.85" x2="318.2" y2="601.85" stroke="#39b54a" stroke-width="3"/>
<line x1="318.2" y1="601.85" x2="396.1" y2="601.85" stroke="#c8102e" stroke-width="3"/>
<text x="78.18" y="593.8" font-size="14.37" fill="#111" textLength="66.45" lengthAdjust="spacingAndGlyphs">Off EPAG</text>
<text x="209.29" y="593.8" font-size="14.89" fill="#111" textLength="65.62" lengthAdjust="spacingAndGlyphs">On EPAG</text>
<text x="323.68" y="593.8" font-size="14.37" fill="#111" textLength="66.96" lengthAdjust="spacingAndGlyphs">Off EPAG</text>
<rect x="411.3" y="619.5" width="17.6" height="9" fill="#1a4f85"/>
<text x="434.12" y="628.9" font-size="13.94" fill="#111" textLength="68.29" lengthAdjust="spacingAndGlyphs">Fibroblast</text>
<rect x="411.3" y="636.22" width="17.6" height="9" fill="#39b54a"/>
<text x="434.21" y="645.62" font-size="14.68" fill="#111" textLength="9.65" lengthAdjust="spacingAndGlyphs">B</text>
<rect x="411.3" y="652.94" width="17.6" height="9" fill="#e8168b"/>
<text x="435.09" y="662.34" font-size="14.68" fill="#111" textLength="8.32" lengthAdjust="spacingAndGlyphs">T</text>
<rect x="411.3" y="669.66" width="17.6" height="9" fill="#fa8c12"/>
<text x="434.24" y="679.06" font-size="14.46" fill="#111" textLength="46.27" lengthAdjust="spacingAndGlyphs">HSPCs</text>
<rect x="411.3" y="686.38" width="17.6" height="9" fill="#2aa8e0"/>
<text x="434.09" y="695.78" font-size="14.46" fill="#111" textLength="60.32" lengthAdjust="spacingAndGlyphs">BMMNC</text>
<rect x="411.3" y="703.1" width="17.6" height="9" fill="#8781bd"/>
<text x="434.65" y="712.5" font-size="14.46" fill="#111" textLength="40.48" lengthAdjust="spacingAndGlyphs">Grans</text>
<rect x="411.3" y="719.82" width="17.6" height="9" fill="#c8102e"/>
<text x="434.18" y="729.22" font-size="14.46" fill="#111" textLength="42.19" lengthAdjust="spacingAndGlyphs">NRBC</text>
<g transform="translate(80.2,766.3) rotate(-45)"><text x="-77.6" y="0" font-size="16.65" fill="#111" textLength="78.68" lengthAdjust="spacingAndGlyphs">–85 month</text></g>
<g transform="translate(146.9,766.3) rotate(-45)"><text x="-68.34" y="0" font-size="16.65" fill="#111" textLength="69.42" lengthAdjust="spacingAndGlyphs">–8 month</text></g>
<g transform="translate(220.8,766.3) rotate(-45)"><text x="-68.34" y="0" font-size="16.65" fill="#111" textLength="69.42" lengthAdjust="spacingAndGlyphs">61 month</text></g>
<g transform="translate(288.1,766.3) rotate(-45)"><text x="-68.34" y="0" font-size="16.65" fill="#111" textLength="69.42" lengthAdjust="spacingAndGlyphs">79 month</text></g>
<g transform="translate(356.3,766.3) rotate(-45)"><text x="-68.34" y="0" font-size="16.65" fill="#111" textLength="69.42" lengthAdjust="spacingAndGlyphs">85 month</text></g>
<text x="14.51" y="869.5" font-size="24.13" font-weight="bold" fill="#111" textLength="18.25" lengthAdjust="spacingAndGlyphs" stroke="#111" stroke-width="0.6" stroke-linejoin="round">D</text>
<text x="120.79" y="890.5" font-size="19.46" fill="#111" textLength="142.48" lengthAdjust="spacingAndGlyphs">RPS19 mutation</text>
<text x="75.28" y="914.1" font-size="14.51" fill="#111" textLength="66.76" lengthAdjust="spacingAndGlyphs">Off EPAG</text>
<text x="249.99" y="914.6" font-size="14.89" fill="#111" textLength="66.14" lengthAdjust="spacingAndGlyphs">On EPAG</text>
<line x1="45.2" y1="922.2" x2="171.7" y2="922.2" stroke="#c8102e" stroke-width="3"/>
<line x1="204.9" y1="922" x2="361" y2="922" stroke="#39b54a" stroke-width="3"/>
<text x="27.92" y="942.7" font-size="13.46" fill="#111" textLength="53.37" lengthAdjust="spacingAndGlyphs">CFU-GM</text>
<text x="111.37" y="941.2" font-size="13.32" fill="#111" textLength="38.07" lengthAdjust="spacingAndGlyphs">CFU-E</text>
<text x="212.43" y="943" font-size="13.46" fill="#111" textLength="52.55" lengthAdjust="spacingAndGlyphs">CFU-GM</text>
<text x="291.57" y="943" font-size="13.46" fill="#111" textLength="38.07" lengthAdjust="spacingAndGlyphs">CFU-E</text>
<text x="78.49" y="957.6" font-size="13.18" fill="#111" textLength="25.66" lengthAdjust="spacingAndGlyphs">0.31</text>
<text x="150.28" y="957.6" font-size="13.46" fill="#111" textLength="25.7" lengthAdjust="spacingAndGlyphs">0.13</text>
<text x="258.3" y="957.6" font-size="13.32" fill="#111" textLength="24.93" lengthAdjust="spacingAndGlyphs">0.31</text>
<text x="328.59" y="957.6" font-size="13.32" fill="#111" textLength="25.47" lengthAdjust="spacingAndGlyphs">0.22</text>
<circle cx="60.1" cy="974" r="19.9" fill="#125383"/><path d="M60.1,974 L60.1,954.1 A19.9,19.9 0 0 1 78.6,981.33 Z" fill="#c8102e"/>
<circle cx="130.6" cy="972.1" r="21.4" fill="#125383"/><path d="M130.6,972.1 L130.6,950.7 A21.4,21.4 0 0 1 146.2,957.45 Z" fill="#c8102e"/>
<circle cx="238.4" cy="973.4" r="20.1" fill="#125383"/><path d="M238.4,973.4 L238.4,953.3 A20.1,20.1 0 0 1 257.09,980.8 Z" fill="#c8102e"/>
<circle cx="310.3" cy="973.4" r="20.1" fill="#125383"/><path d="M310.3,973.4 L310.3,953.3 A20.1,20.1 0 0 1 330.04,969.63 Z" fill="#c8102e"/>
<text x="56.7" y="1018.7" font-size="16.01" fill="#111" textLength="80" lengthAdjust="spacingAndGlyphs">–85 month</text>
<text x="241.42" y="1017.9" font-size="14.9" fill="#111" textLength="71.9" lengthAdjust="spacingAndGlyphs">61 month</text>
<circle cx="371.7" cy="963.7" r="4.6" fill="#125383"/>
<circle cx="371.7" cy="984" r="4.6" fill="#c8102e"/>
<text x="383.63" y="968.3" font-size="15.73" fill="#111" textLength="61.69" lengthAdjust="spacingAndGlyphs">Wildtype</text>
<text x="384.17" y="989.2" font-size="16.33" font-style="italic" fill="#111" textLength="44.11" lengthAdjust="spacingAndGlyphs">RPS19</text>
<text x="431.42" y="989.2" font-size="15.73" fill="#111" textLength="58.83" lengthAdjust="spacingAndGlyphs">mutated</text>
<rect x="1" y="1" width="518" height="1031" fill="none" stroke="#000" stroke-width="2"/>
</svg>
</body></html>
